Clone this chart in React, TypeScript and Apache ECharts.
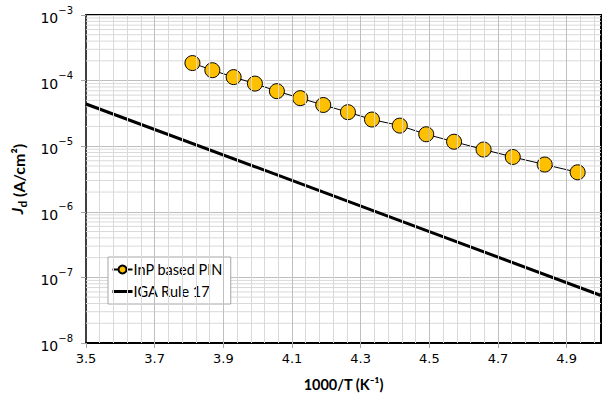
import React, { useEffect, useRef } from "react";
import * as echarts from "echarts";

// ---- Data ----
const pinX = [3.810, 3.868, 3.930, 3.992, 4.056, 4.124, 4.191, 4.263, 4.333, 4.414, 4.491, 4.572, 4.658, 4.743, 4.836, 4.932];
const pinJ = [1.85e-4, 1.44e-4, 1.13e-4, 9.0e-5, 6.9e-5, 5.4e-5, 4.25e-5, 3.3e-5, 2.55e-5, 2.06e-5, 1.52e-5, 1.17e-5, 8.9e-6, 6.85e-6, 5.25e-6, 4.0e-6];
const igaX = [3.5, 4.0, 4.5, 5.0];
const igaJ = [4.4e-5, 4.7e-6, 5.0e-7, 5.3e-8];

const xTickLabels = [3.5, 3.7, 3.9, 4.1, 4.3, 4.5, 4.7, 4.9];
const xMin = 3.5;
const xMax = 5.0;
const xMinorStep = 0.04;
const yMin = 1e-8;
const yMax = 1e-3;
const yDecades = [-8, -7, -6, -5, -4];
const yMinorMultipliers = [2, 3, 4, 5, 6, 7, 8, 9];

const FONT = 'Lato, "Open Sans", "Noto Sans", sans-serif';
const TICKFONT = '"DejaVu Sans", Verdana, sans-serif';

export default function App() {
  const ref = useRef<HTMLDivElement>(null);

  useEffect(() => {
    if (!ref.current) return;
    const chart = echarts.init(ref.current, undefined, { renderer: "svg" });

    // vertical grid lines via markLine
    const vLines: any[] = [];
    for (let i = 1; xMin + i * xMinorStep < xMax - 1e-6; i++) {
      const v = +(xMin + i * xMinorStep).toFixed(2);
      vLines.push({ xAxis: v, lineStyle: { color: "#d9d9d9", width: 1, type: "solid" } });
    }
    xTickLabels.slice(1).forEach((v) =>
      vLines.push({ xAxis: v, lineStyle: { color: "#bfbfbf", width: 1, type: "solid" } })
    );

    // horizontal minor grid lines as plain line series
    const hSeries: any[] = [];
    yDecades.forEach((e) =>
      yMinorMultipliers.forEach((k) => {
        const v = k * Math.pow(10, e);
        hSeries.push({
          name: "hgrid",
          type: "line",
          data: [[xMin, v], [xMax, v]],
          symbol: "none",
          silent: true,
          z: 0,
          lineStyle: { color: "#d9d9d9", width: 1 },
          emphasis: { disabled: true },
        });
      })
    );

    const option: any = {
      animation: false,
      backgroundColor: "#fff",
      grid: {
        left: 86,
        right: 2,
        top: 15,
        bottom: 55,
        show: true,
        borderColor: "#000",
        borderWidth: 2,
        backgroundColor: "transparent",
      },
      legend: {
        orient: "vertical",
        left: 108,
        top: 257,
        itemWidth: 20,
        itemHeight: 10,
        itemGap: 7,
        padding: [5, 8, 5, 3],
        borderColor: "#a6a6a6",
        borderWidth: 1,
        borderRadius: 0,
        backgroundColor: "#fff",
        textStyle: { fontFamily: FONT, fontSize: 14.5, color: "#000", padding: [0, 0, 0, -4] },
        data: [
          { name: "InP based PIN" },
          { name: "IGA Rule 17", itemStyle: { opacity: 0 }, lineStyle: { width: 3, color: "#000" } },
        ],
      },
      xAxis: {
        type: "value",
        min: xMin,
        max: xMax,
        name: "1000/T (K\u207B\u00B9)",
        nameLocation: "middle",
        nameGap: 34,
        nameTextStyle: { fontFamily: FONT, fontSize: 14.5, fontWeight: "bold", color: "#000" },
        axisLine: { show: true, onZero: false, lineStyle: { color: "#000", width: 2 } },
        axisTick: { show: true, length: 5, customValues: xTickLabels, lineStyle: { color: "#a6a6a6" } },
        axisLabel: {
          customValues: xTickLabels,
          formatter: (v: number) => v.toFixed(1),
          fontFamily: TICKFONT,
          fontSize: 13,
          color: "#000",
          margin: 9,
        },
        splitLine: { show: false },
      },
      yAxis: {
        type: "log",
        logBase: 10,
        min: yMin,
        max: yMax,
        name: "{i|J}{s|d} (A/cm\u00B2)",
        nameLocation: "middle",
        nameGap: 58,
        nameTextStyle: {
          fontFamily: FONT,
          fontSize: 16,
          fontWeight: "bold",
          color: "#000",
          rich: {
            i: { fontFamily: FONT, fontSize: 16, fontWeight: "bold", fontStyle: "italic", color: "#000", lineHeight: 20, verticalAlign: "top" },
            s: { fontFamily: FONT, fontSize: 12, fontWeight: "bold", color: "#000", lineHeight: 12, verticalAlign: "bottom" },
          },
        },
        axisLine: { show: true, lineStyle: { color: "#404040", width: 2 } },
        axisTick: { show: true, length: 5, lineStyle: { color: "#a6a6a6" } },
        splitLine: { show: true, lineStyle: { color: "#bfbfbf", width: 1 } },
        axisLabel: {
          margin: 13,
          formatter: (v: number) => {
            const e = Math.round(Math.log10(v));
            return "{b|10}{sup|\u2212" + Math.abs(e) + "}";
          },
          rich: {
            b: { fontFamily: TICKFONT, fontSize: 14, color: "#000", lineHeight: 20, verticalAlign: "bottom" },
            sup: { fontFamily: TICKFONT, fontSize: 10, color: "#000", lineHeight: 8, verticalAlign: "top" },
          },
        },
      },
      series: [
        {
          name: "vgrid",
          type: "line",
          data: [],
          z: 0,
          silent: true,
          showSymbol: false,
          markLine: {
            silent: true,
            symbol: ["none", "none"],
            label: { show: false },
            emphasis: { disabled: true },
            data: vLines,
          },
        },
        ...hSeries,
        {
          name: "IGA Rule 17",
          type: "line",
          data: igaX.map((x, i) => [x, igaJ[i]]),
          showSymbol: false,
          symbol: "none",
          lineStyle: { color: "#000", width: 3 },
          itemStyle: { color: "#000" },
          z: 3,
        },
        {
          name: "InP based PIN",
          type: "line",
          data: pinX.map((x, i) => [x, pinJ[i]]),
          symbol: "circle",
          symbolSize: 15,
          lineStyle: { color: "#000", width: 1 },
          itemStyle: { color: "#FFC000", borderColor: "#000", borderWidth: 1 },
          z: 4,
        },
      ],
    };

    chart.setOption(option);
    return () => chart.dispose();
  }, []);

  return <div ref={ref} style={{ position: "absolute", left: 0, top: 0, width: 603, height: 398 }} />;
}
